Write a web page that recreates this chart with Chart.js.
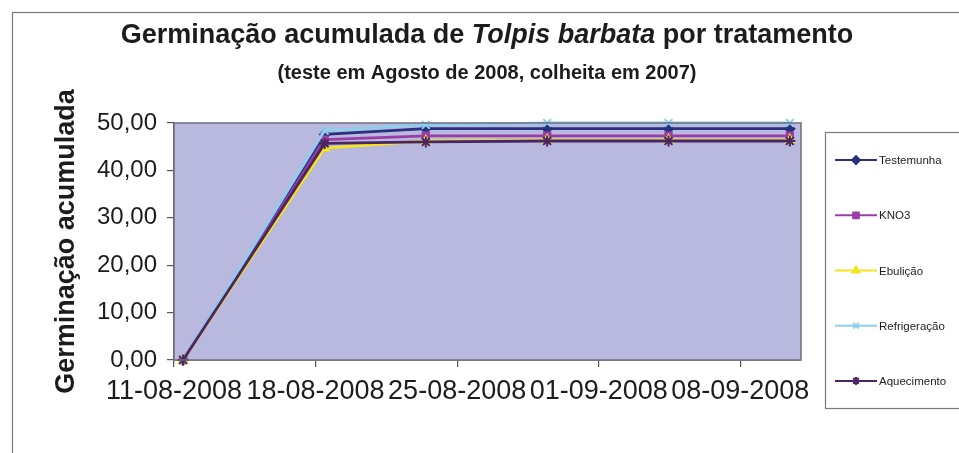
<!DOCTYPE html>
<html lang="pt">
<head>
<meta charset="utf-8">
<title>Germinação acumulada de Tolpis barbata</title>
<script src="https://cdn.jsdelivr.net/npm/chart.js@4/dist/chart.umd.min.js"></script>
<style>
  html, body { margin: 0; padding: 0; background: #fff; }
  #wrap { position: relative; width: 959px; height: 453px; }
  #chart { display: block; }
</style>
</head>
<body>
<div id="wrap"><canvas id="chart" width="959" height="453"></canvas></div>
<script>
// ---------------------------------------------------------------------------
//  Data
// ---------------------------------------------------------------------------

const axisStart  = '11-08-2008';
const axisEnd    = '11-09-2008';
const tickDates  = ['11-08-2008', '18-08-2008', '25-08-2008', '01-09-2008', '08-09-2008'];
const testDates  = ['11-08-2008', '18-08-2008', '23-08-2008', '29-08-2008', '04-09-2008', '10-09-2008'];

const seriesNames   = ['Testemunha', 'KNO3', 'Ebulição', 'Refrigeração', 'Aquecimento'];
const testemunha    = [0, 47.6, 48.8, 48.8, 48.8, 48.8];
const kno3          = [0, 46.5, 47.3, 47.3, 47.3, 47.3];
const ebulicao      = [0, 44.7, 46.2, 46.4, 46.4, 46.4];
const refrigeracao  = [0, 48.4, 49.6, 50.0, 50.0, 50.0];
const aquecimento   = [0, 45.7, 46.0, 46.2, 46.2, 46.2];

const yTicks = [0, 10, 20, 30, 40, 50];

// ---------------------------------------------------------------------------
//  Helpers
// ---------------------------------------------------------------------------

const DAY = 86400000;

function parseDate(s) {
  const [d, m, y] = s.split('-').map(Number);
  return Date.UTC(y, m - 1, d);
}

// Excel date axis: a point sits in the middle of its day slot
function dayIndex(s) {
  return (parseDate(s) - parseDate(axisStart)) / DAY + 0.45;
}

function tickIndex(s) {
  return (parseDate(s) - parseDate(axisStart)) / DAY;
}

function fmtDate(v) {
  const d = new Date(parseDate(axisStart) + Math.round(v) * DAY);
  const dd = String(d.getUTCDate()).padStart(2, '0');
  const mm = String(d.getUTCMonth() + 1).padStart(2, '0');
  return `${dd}-${mm}-${d.getUTCFullYear()}`;
}

function points(values) {
  return values.map((v, i) => ({ x: dayIndex(testDates[i]), y: v }));
}

// ---------------------------------------------------------------------------
//  Datasets
// ---------------------------------------------------------------------------

const styles = [
  { color: '#28307f', marker: 'rectRot',  radius: 4.5 },
  { color: '#9a3ea6', marker: 'rect',     radius: 4.5 },
  { color: '#f3e41c', marker: 'triangle', radius: 5   },
  { color: '#8fcdec', marker: 'crossRot', radius: 5.5 },
  { color: '#4b2463', marker: 'star',     radius: 5.5 },
];

const seriesValues = [testemunha, kno3, ebulicao, refrigeracao, aquecimento];

const datasets = seriesNames.map((name, i) => ({
  label: name,
  data: points(seriesValues[i]),
  borderColor: styles[i].color,
  backgroundColor: styles[i].color,
  borderWidth: 2.8,
  pointStyle: styles[i].marker,
  pointRadius: styles[i].radius,
  pointBorderWidth: 2,
  pointBorderColor: styles[i].color,
  pointBackgroundColor: styles[i].color,
  tension: 0,
  clip: false,
  order: seriesNames.length - i,   // later series drawn on top, like Excel
}));

// ---------------------------------------------------------------------------
//  Plugins: frame, plot background, titles, legend
// ---------------------------------------------------------------------------

const plotBg = {
  id: 'plotBg',
  beforeDatasetsDraw(chart) {
    const { ctx, chartArea: a } = chart;
    ctx.save();
    ctx.fillStyle = '#b9b8df';
    ctx.fillRect(a.left, a.top, a.right - a.left, a.bottom - a.top);
    ctx.restore();
  },
  afterDatasetsDraw(chart) {
    const { ctx, chartArea: a } = chart;
    ctx.save();
    ctx.strokeStyle = '#6f6f80';
    ctx.lineWidth = 1.5;
    ctx.strokeRect(a.left, a.top, a.right - a.left, a.bottom - a.top);
    ctx.restore();
  },
};

const titles = {
  id: 'titles',
  afterDraw(chart) {
    const ctx = chart.ctx;
    const cx = 487;
    ctx.save();
    // outer chart frame
    ctx.strokeStyle = '#7a7a7a';
    ctx.lineWidth = 1.2;
    ctx.strokeRect(12.5, 12.5, 1000, 1000);

    ctx.fillStyle = '#1c1c1c';
    ctx.textBaseline = 'alphabetic';
    ctx.textAlign = 'left';
    const bold   = 'bold 27px "Liberation Sans", Arial, sans-serif';
    const italic = 'italic bold 27px "Liberation Sans", Arial, sans-serif';
    const parts = [
      [bold, 'Germinação acumulada de '],
      [italic, 'Tolpis barbata'],
      [bold, ' por tratamento'],
    ];
    let total = 0;
    parts.forEach(([font, text]) => { ctx.font = font; total += ctx.measureText(text).width; });
    let x = cx - total / 2;
    parts.forEach(([font, text]) => {
      ctx.font = font;
      ctx.fillText(text, x, 43);
      x += ctx.measureText(text).width;
    });
    ctx.font = 'bold 20px "Liberation Sans", Arial, sans-serif';
    ctx.textAlign = 'center';
    ctx.fillText('(teste em Agosto de 2008, colheita em 2007)', cx, 79);
    ctx.restore();
  },
};

const sideLegend = {
  id: 'sideLegend',
  afterDraw(chart) {
    const ctx = chart.ctx;
    const box = { left: 825.5, top: 132.5, bottom: 408.5 };
    ctx.save();
    ctx.fillStyle = '#fff';
    ctx.fillRect(box.left, box.top, 200, box.bottom - box.top);
    ctx.strokeStyle = '#7a7a7a';
    ctx.lineWidth = 1.2;
    ctx.strokeRect(box.left, box.top, 200, box.bottom - box.top);

    const step = (box.bottom - box.top) / chart.data.datasets.length;
    chart.data.datasets.forEach((ds, i) => {
      const y = box.top + step * (i + 0.5);
      ctx.strokeStyle = ds.borderColor;
      ctx.lineWidth = 2;
      ctx.beginPath();
      ctx.moveTo(835, y);
      ctx.lineTo(877, y);
      ctx.stroke();
      Chart.helpers.drawPoint(ctx, {
        pointStyle: ds.pointStyle, radius: 4, borderWidth: 1.5, rotation: 0,
      }, 856, y);
      ctx.fillStyle = ds.borderColor;
      ctx.fill();
      ctx.fillStyle = '#1c1c1c';
      ctx.font = '11.5px "Liberation Sans", Arial, sans-serif';
      ctx.textBaseline = 'middle';
      ctx.textAlign = 'left';
      ctx.fillText(ds.label, 879, y + 1);
    });
    ctx.restore();
  },
};

// ---------------------------------------------------------------------------
//  Chart
// ---------------------------------------------------------------------------

new Chart(document.getElementById('chart'), {
  type: 'line',
  data: { datasets },
  plugins: [plotBg, titles, sideLegend],
  options: {
    responsive: false,
    animation: false,
    devicePixelRatio: 1,
    layout: { padding: { left: 0, top: 123, right: 158, bottom: 0 } },
    plugins: { legend: { display: false }, tooltip: { enabled: false }, title: { display: false } },
    scales: {
      x: {
        type: 'linear',
        min: tickIndex(axisStart),
        max: tickIndex(axisEnd),
        afterBuildTicks: s => { s.ticks = tickDates.map(d => ({ value: tickIndex(d) })); },
        afterFit: s => { s.height = 93; },
        grid: { drawOnChartArea: false, drawTicks: true, tickLength: 7, color: '#555', lineWidth: 1.2 },
        border: { display: true, color: '#555', width: 1.5 },
        ticks: {
          autoSkip: false, maxRotation: 0, minRotation: 0, padding: 8,
          color: '#1c1c1c',
          font: { family: '"Liberation Sans", Arial, sans-serif', size: 27 },
          callback: v => fmtDate(v),
        },
      },
      y: {
        min: yTicks[0],
        max: yTicks[yTicks.length - 1],
        afterBuildTicks: s => { s.ticks = yTicks.map(v => ({ value: v })); },
        afterFit: s => { s.width = 174; },
        grid: { drawOnChartArea: false, drawTicks: true, tickLength: 7, color: '#555', lineWidth: 1.2 },
        border: { display: true, color: '#555', width: 1.5 },
        ticks: {
          padding: 10,
          color: '#1c1c1c',
          font: { family: '"Liberation Sans", Arial, sans-serif', size: 24 },
          callback: v => v.toFixed(2).replace('.', ','),
        },
        title: {
          display: true,
          text: 'Germinação acumulada',
          color: '#1c1c1c',
          font: { family: '"Liberation Sans", Arial, sans-serif', size: 27, weight: 'bold' },
          padding: { top: 50, bottom: 0 },
        },
      },
    },
  },
});
</script>
</body>
</html>
